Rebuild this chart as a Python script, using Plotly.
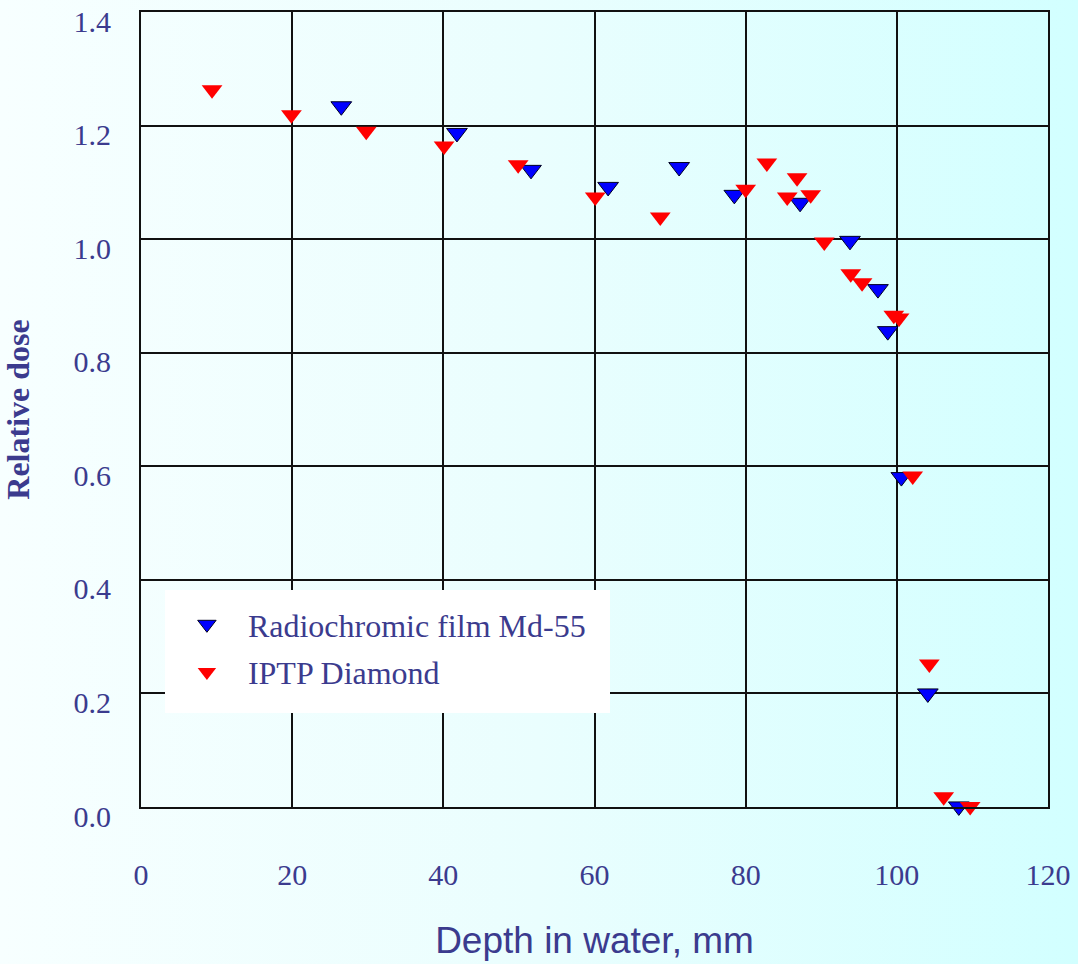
import base64
import plotly.graph_objects as go

# ---- data ----
film_depth = [26.5, 41.8, 51.6, 61.8, 71.2, 78.5, 87.2, 93.8, 97.5, 98.8, 100.6, 104.1, 108.2]
film_dose = [1.234, 1.187, 1.122, 1.092, 1.127, 1.078, 1.064, 0.997, 0.912, 0.838, 0.581, 0.200, 0.001]

diamond_depth = [9.4, 19.9, 29.8, 40.1, 49.9, 60.1, 68.7, 80.0, 82.8, 86.8, 85.5, 88.6,
                 90.4, 93.9, 95.4, 99.6, 100.3, 102.1, 104.3, 106.2, 109.7]
diamond_dose = [1.263, 1.219, 1.190, 1.164, 1.131, 1.074, 1.039, 1.088, 1.134, 1.108, 1.074, 1.078,
                0.995, 0.939, 0.923, 0.866, 0.861, 0.583, 0.252, 0.018, 0.001]

x_ticks = [0, 20, 40, 60, 80, 100, 120]
y_ticks = [0.0, 0.2, 0.4, 0.6, 0.8, 1.0, 1.2, 1.4]
y_tick_text = ["0.0", "0.2", "0.4", "0.6", "0.8", "1.0", "1.2", "1.4"]

TXT = "#3b3b8e"
W, H = 1078, 964
ML, MR, MT, MB = 141, 30, 12, 157
PW, PH = W - ML - MR, H - MT - MB

svg = (
    '<svg xmlns="http://www.w3.org/2000/svg" width="1078" height="964" preserveAspectRatio="none">'
    '<defs><linearGradient id="g" x1="0" y1="0" x2="1" y2="0">'
    '<stop offset="0" stop-color="#f7ffff"/><stop offset="0.5" stop-color="#eafefe"/>'
    '<stop offset="1" stop-color="#d2ffff"/></linearGradient></defs>'
    '<rect width="1078" height="964" fill="url(#g)"/></svg>'
)
bg_src = "data:image/svg+xml;base64," + base64.b64encode(svg.encode()).decode()

fig = go.Figure()
fig.add_trace(go.Scatter(
    x=film_depth, y=film_dose, mode="markers", name="Radiochromic film Md-55",
    legendgroup="a", cliponaxis=False,
    marker=dict(symbol="triangle-down", size=18, color="#0000ff",
                line=dict(color="#000022", width=1)),
))
fig.add_trace(go.Scatter(
    x=diamond_depth, y=diamond_dose, mode="markers", name="IPTP Diamond",
    legendgroup="b", cliponaxis=False,
    marker=dict(symbol="triangle-down", size=18, color="#ff0000",
                line=dict(color="#ff0000", width=0)),
))

fig.update_layout(
    width=W, height=H,
    margin=dict(l=ML, r=MR, t=MT, b=MB, autoexpand=False),
    paper_bgcolor="#f4ffff",
    plot_bgcolor="rgba(0,0,0,0)",
    font=dict(family="Liberation Serif, Times New Roman, serif", size=30, color=TXT),
    images=[dict(source=bg_src, xref="paper", yref="paper",
                 x=-ML / PW, y=1 + MT / PH, sizex=W / PW, sizey=H / PH,
                 sizing="stretch", layer="below", xanchor="left", yanchor="top")],
    shapes=[dict(type="rect", xref="paper", yref="paper",
                 x0=(165 - ML) / PW, x1=(610 - ML) / PW,
                 y0=(MT + PH - 713) / PH, y1=(MT + PH - 590) / PH,
                 fillcolor="#ffffff", line=dict(width=0), layer="above")],
    legend=dict(x=(165 - ML) / PW + 0.001, y=(MT + PH - 597) / PH, xanchor="left", yanchor="top",
                bgcolor="rgba(0,0,0,0)", borderwidth=0, itemwidth=72,
                tracegroupgap=3, traceorder="grouped",
                font=dict(family="Liberation Serif, Times New Roman, serif", size=32, color=TXT)),
    showlegend=True,
)

fig.update_xaxes(
    range=[0, 120], tickvals=x_ticks, ticktext=[str(v) for v in x_ticks],
    showgrid=True, gridcolor="#111111", gridwidth=2,
    showline=True, linecolor="#111111", linewidth=2, mirror=True,
    zeroline=False, ticks="", ticklabelstandoff=40, automargin=False,
    tickfont=dict(family="Liberation Serif, Times New Roman, serif", size=30, color=TXT),
    title=dict(text="Depth in water, mm", standoff=37,
               font=dict(family="Liberation Sans, Arial, sans-serif", size=37, color=TXT)),
)
fig.update_yaxes(
    range=[0, 1.4], tickvals=y_ticks, ticktext=y_tick_text,
    showgrid=True, gridcolor="#111111", gridwidth=2,
    showline=True, linecolor="#111111", linewidth=2, mirror=True,
    zeroline=False, ticks="", ticklabelstandoff=22, ticklabelshift=9, automargin=False,
    tickfont=dict(family="Liberation Serif, Times New Roman, serif", size=30, color=TXT),
    title=dict(text="<b>Relative dose</b>", standoff=36,
               font=dict(family="Liberation Serif, Times New Roman, serif", size=32, color=TXT)),
)

fig.write_html("out.html", config={"displayModeBar": False},
               post_script="document.body.style.margin='0px';")
